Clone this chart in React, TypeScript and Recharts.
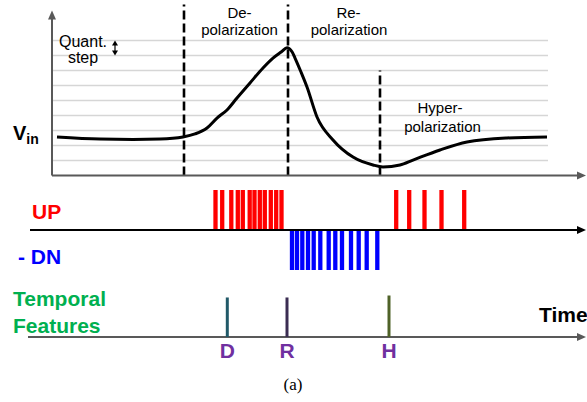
import { LineChart, ComposedChart, Line, XAxis, YAxis, ReferenceLine } from 'recharts'

const W = 587
const TIME_DOMAIN: [number, number] = [-10.4, 107]

// membrane potential trace, y in quantization levels
const traceTime = [1, 9.6, 16.2, 21.6, 26.2, 28.6, 31, 33, 35, 37, 39.6, 42.2, 44.2, 45.9, 47, 48, 48.6, 49.8, 51, 53, 56.2, 60.2, 64.2, 66.2, 69.6, 72.2, 77.6, 83, 91, 99]
const traceVin = [2.57, 2.43, 2.4, 2.43, 2.57, 2.77, 3.17, 3.83, 4.37, 5.17, 6.17, 7.17, 7.83, 8.25, 8.52, 8.25, 7.83, 6.9, 5.9, 3.9, 2.37, 1.23, 0.7, 0.57, 0.7, 1.03, 1.7, 2.23, 2.5, 2.57]

const quantLevels = [1, 2, 3, 4, 5, 6, 7, 8, 9]
const gridEnd = 99.2

// phase boundaries: depolarization start, peak, trough
const phaseTimes = [26.4, 47.2, 65.6]
const phaseTops = [11.4, 11.4, 7]

// spike encoder output
const upPulses = [32.7, 34.04, 35.86, 37.16, 38.16, 39.54, 40.5, 41.56, 42.56, 43.76, 44.84, 45.9, 68.84, 71.44, 74.5, 77.9, 82.44]
const dnPulses = [48.0, 49.0, 50.06, 51.2, 52.34, 53.66, 55.34, 56.66, 58.0, 59.8, 61.34, 62.94, 65.06]

const featureNames = ['D', 'R', 'H']
const featureTimes = [35.06, 47.0, 67.4]
const featureHeights = [1, 1, 1.05]
const featureColors = ['#215968', '#3b2d52', '#4f6228']

const trace = traceTime.map((t, i) => ({ t, v: traceVin[i] }))

const AXIS_GRAY = '#595959'

function ArrowLine(props: any) {
  const { x1, y1, x2, y2, stroke, strokeWidth, head = 9, half = 4, both = false } = props
  const dx = x2 - x1
  const dy = y2 - y1
  const len = Math.sqrt(dx * dx + dy * dy) || 1
  const ux = dx / len
  const uy = dy / len
  const tri = (tx: number, ty: number, sx: number, sy: number) => {
    const bx = tx - sx * head
    const by = ty - sy * head
    return `${tx},${ty} ${bx - sy * half},${by + sx * half} ${bx + sy * half},${by - sx * half}`
  }
  const sx = both ? x1 + ux * head * 0.8 : x1
  const sy = both ? y1 + uy * head * 0.8 : y1
  return (
    <g>
      <line x1={sx} y1={sy} x2={x2 - ux * head * 0.8} y2={y2 - uy * head * 0.8} stroke={stroke} strokeWidth={strokeWidth} />
      <polygon points={tri(x2, y2, ux, uy)} fill={stroke} />
      {both && <polygon points={tri(x1, y1, -ux, -uy)} fill={stroke} />}
    </g>
  )
}

const hiddenX = <XAxis hide type="number" dataKey="t" domain={TIME_DOMAIN} allowDataOverflow />

export default function App() {
  const font = '"Liberation Sans", Arial, sans-serif'
  return (
    <div style={{ position: 'absolute', left: 0, top: 0, width: W, height: 402, background: '#fff', fontFamily: font }}>
      <div style={{ position: 'absolute', left: 0, top: 0 }}>
        <LineChart width={W} height={180} data={trace} margin={{ top: 3, right: 0, bottom: 4.5, left: 0 }}>
          {hiddenX}
          <YAxis hide type="number" domain={[0, 11.5]} allowDataOverflow />
          {quantLevels.map((q) => (
            <ReferenceLine key={q} segment={[{ x: 0, y: q }, { x: gridEnd, y: q }]} stroke="#d6d6d6" strokeWidth={1.6} />
          ))}
          {phaseTimes.map((t, i) => (
            <ReferenceLine key={t} segment={[{ x: t, y: 0 }, { x: t, y: phaseTops[i] }]} stroke="#000" strokeWidth={2.6} strokeDasharray="9 4" />
          ))}
          <ReferenceLine segment={[{ x: 0, y: 0 }, { x: 106.8, y: 0 }]} stroke={AXIS_GRAY} strokeWidth={2} shape={(p: any) => <ArrowLine {...p} />} />
          <ReferenceLine segment={[{ x: 0, y: 0 }, { x: 0, y: 11 }]} stroke={AXIS_GRAY} strokeWidth={2} shape={(p: any) => <ArrowLine {...p} />} />
          <ReferenceLine segment={[{ x: 12.6, y: 8 }, { x: 12.6, y: 9 }]} stroke="#000" strokeWidth={1.2} shape={(p: any) => <ArrowLine {...p} head={5} half={3} both />} />
          <Line type="monotone" dataKey="v" stroke="#000" strokeWidth={3} dot={false} isAnimationActive={false} />
        </LineChart>
      </div>

      <div style={{ position: 'absolute', left: 0, top: 180 }}>
        <ComposedChart width={W} height={100} data={[]} margin={{ top: 10, right: 0, bottom: 10, left: 0 }}>
          {hiddenX}
          <YAxis hide type="number" domain={[-1, 1]} allowDataOverflow />
          {upPulses.map((t) => (
            <ReferenceLine key={'u' + t} segment={[{ x: t, y: 0 }, { x: t, y: 1 }]} stroke="#ff0000" strokeWidth={4.3} />
          ))}
          {dnPulses.map((t) => (
            <ReferenceLine key={'d' + t} segment={[{ x: t, y: 0 }, { x: t, y: -1 }]} stroke="#0000ff" strokeWidth={4.3} />
          ))}
          <ReferenceLine segment={[{ x: -4.4, y: 0 }, { x: 106.8, y: 0 }]} stroke="#000" strokeWidth={2} shape={(p: any) => <ArrowLine {...p} />} />
        </ComposedChart>
      </div>

      <div style={{ position: 'absolute', left: 0, top: 285 }}>
        <ComposedChart width={W} height={60} data={[]} margin={{ top: 10.5, right: 0, bottom: 8, left: 0 }}>
          {hiddenX}
          <YAxis hide type="number" domain={[0, 1.05]} allowDataOverflow />
          <ReferenceLine segment={[{ x: -4.8, y: 0 }, { x: 106.8, y: 0 }]} stroke={AXIS_GRAY} strokeWidth={2} shape={(p: any) => <ArrowLine {...p} />} />
          {featureTimes.map((t, i) => (
            <ReferenceLine key={featureNames[i]} segment={[{ x: t, y: 0 }, { x: t, y: featureHeights[i] }]} stroke={featureColors[i]} strokeWidth={3} ifOverflow="visible" />
          ))}
        </ComposedChart>
      </div>

      <svg width={W} height={402} style={{ position: 'absolute', left: 0, top: 0, pointerEvents: 'none' }} fontFamily={font}>
        <g fontSize={15} fill="#000" textAnchor="middle">
          <text x={239.5} y={18}>De-</text>
          <text x={239.5} y={35}>polarization</text>
          <text x={348.5} y={18}>Re-</text>
          <text x={349} y={35}>polarization</text>
          <text x={440} y={113}>Hyper-</text>
          <text x={442.5} y={131.5}>polarization</text>
        </g>
        <g fontSize={16} fill="#000" textAnchor="middle">
          <text x={83} y={47}>Quant.</text>
          <text x={83} y={63}>step</text>
        </g>
        <text x={13} y={140} fontSize={20} fontWeight="bold">
          V<tspan fontSize={14} dy={4}>in</tspan>
        </text>
        <g fontSize={21} fontWeight="bold">
          <text x={32} y={219} fill="#ff0000">UP</text>
          <text x={18} y={264} fill="#0000ff">- DN</text>
          <text x={13} y={306} fill="#00b050">Temporal</text>
          <text x={13} y={333} fill="#00b050">Features</text>
          <text x={539} y={322} fill="#000">Time</text>
          {featureNames.map((n, i) => (
            <text key={n} x={(featureTimes[i] + 10.4) * 5} y={358} fill="#7030a0" textAnchor="middle">{n}</text>
          ))}
        </g>
        <text x={293} y={390} fontSize={17} textAnchor="middle" fontFamily='"Liberation Serif", "Times New Roman", serif'>(a)</text>
      </svg>
    </div>
  )
}
